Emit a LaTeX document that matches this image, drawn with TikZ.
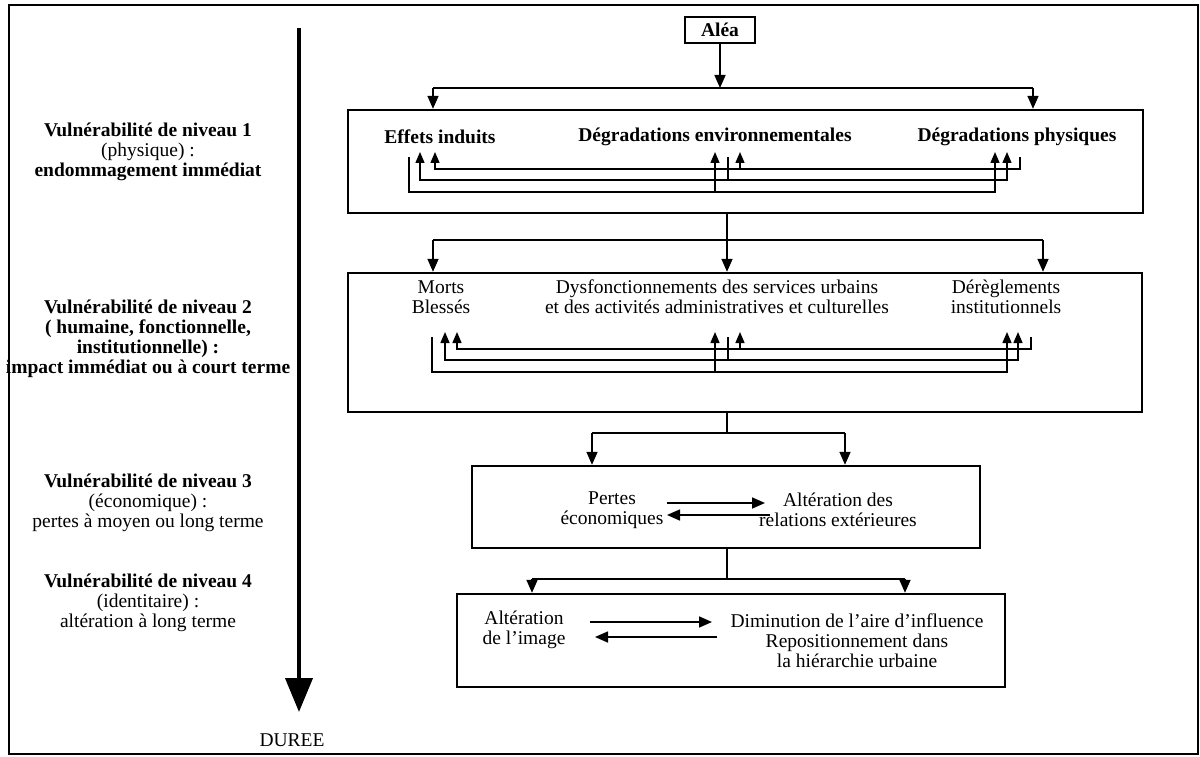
\documentclass[tikz,border=0pt]{standalone}
\usepackage{fontspec}
\setmainfont{Liberation Serif}
\usetikzlibrary{arrows.meta}

\begin{document}
\begin{tikzpicture}[x=1pt, y=-1pt,
  every node/.style={font=\fontsize{19.5}{20}\selectfont, inner sep=0pt},
  bold/.style={font=\fontsize{19.5}{20}\selectfont\bfseries},
  level/.style={align=center},
  item/.style={align=center},
  frame/.style={draw, line width=2.4pt},
  flow/.style={line width=1.6pt, -{Triangle[length=13pt,width=11pt]}},
  link/.style={line width=1.6pt},
  feed/.style={line width=1.4pt, -{Triangle[length=11pt,width=9pt]}},
  feedboth/.style={line width=1.4pt, {Triangle[length=11pt,width=9pt]}-{Triangle[length=11pt,width=9pt]}}]

\useasboundingbox (0,0) rectangle (1200,757);
\draw[line width=1.6pt] (9,5) rectangle (1198,754);

% Time axis
\coordinate (t0) at (299,28);
\coordinate (t1) at (299,712);
\draw[line width=4pt, -{Triangle[length=34pt,width=27pt]}] (t0) -- (t1);
\node (duree) at (292,740) {DUREE};

% Levels (left column)
\node[level] (niv1) at (148,152) {\textbf{Vulnérabilité de niveau 1}\\(physique) :\\\textbf{endommagement immédiat}};
\node[level, bold] (niv2) at (148,339) {Vulnérabilité de niveau 2\\( humaine, fonctionnelle,\\institutionnelle) :\\impact immédiat ou à court terme};
\node[level] (niv3) at (148,503) {\textbf{Vulnérabilité de niveau 3}\\(économique) :\\pertes à moyen ou long terme};
\node[level] (niv4) at (148,603) {\textbf{Vulnérabilité de niveau 4}\\(identitaire) :\\altération à long terme};

% Boxes
\node[frame, bold, minimum width=70pt, minimum height=26pt] (alea) at (720,30) {Aléa};
\node[frame, minimum width=795pt, minimum height=103pt] (box1) at (745.5,161.5) {};
\node[frame, minimum width=794pt, minimum height=139pt] (box2) at (745,342.5) {};
\node[frame, minimum width=508pt, minimum height=82pt] (box3) at (726,507) {};
\node[frame, minimum width=548pt, minimum height=93pt] (box4) at (731,640.5) {};

% Level 1 items
\node[bold] (effets) at (440,137) {Effets induits};
\node[bold] (envir) at (715,137) {Dégradations environnementales};
\node[bold] (physiq) at (1017,137) {Dégradations physiques};

% Level 2 items
\node[item] (morts) at (441,297) {Morts\\Blessés};
\node[item] (dysf) at (717,297) {Dysfonctionnements des services urbains\\et des activités administratives et culturelles};
\node[item] (dereg) at (1006,297) {Dérèglements\\institutionnels};

% Level 3 items
\node[item] (pertes) at (612,510) {Pertes\\économiques};
\node[item] (relext) at (838,510) {Altération des\\relations extérieures};

% Level 4 items
\node[item] (image) at (524,630) {Altération\\de l’image};
\node[item] (aire) at (857,641) {Diminution de l’aire d’influence\\Repositionnement dans\\la hiérarchie urbaine};

% Alea -> level 1
\coordinate (s1) at (720,88);
\coordinate (l1) at (433,88);
\coordinate (r1) at (1033,88);
\draw[flow] (alea) -- (s1);
\draw[link] (l1) -- (r1);
\draw[flow] (l1) -- (l1 |- box1.north);
\draw[flow] (r1) -- (r1 |- box1.north);

% Level 1 -> level 2
\coordinate (s2) at (727,240);
\coordinate (l2) at (433,240);
\coordinate (r2) at (1043,240);
\draw[flow] (s2 |- box1.south) -- (s2 |- box2.north);
\draw[link] (l2) -- (r2);
\draw[flow] (l2) -- (l2 |- box2.north);
\draw[flow] (r2) -- (r2 |- box2.north);

% Level 2 -> level 3
\coordinate (s3) at (727,433);
\coordinate (l3) at (592,433);
\coordinate (r3) at (845,433);
\draw[link] (s3 |- box2.south) -- (s3);
\draw[link] (l3) -- (r3);
\draw[flow] (l3) -- (l3 |- box3.north);
\draw[flow] (r3) -- (r3 |- box3.north);

% Level 3 -> level 4
\coordinate (s4) at (727,579);
\coordinate (l4) at (532,579);
\coordinate (r4) at (905,579);
\draw[link] (s4 |- box3.south) -- (s4);
\draw[link] (l4) -- (r4);
\draw[flow] (l4) -- (l4 |- box4.north);
\draw[flow] (r4) -- (r4 |- box4.north);

% Interactions inside levels 1 and 2
\foreach \dy/\a/\b/\c/\p/\q/\r in {0/409/420/435/995/1007/1020, 180/432/445/457/1007/1018/1031}{
  % from the left item
  \draw[feed] (\a,157+\dy) -- (\a,192+\dy) -- (\p,192+\dy) -- (\p,152+\dy);
  \draw[feed] (715,192+\dy) -- (715,152+\dy);
  % from the middle item
  \draw[link, line width=1.4pt] (728,157+\dy) -- (728,180+\dy);
  \draw[feedboth] (\b,152+\dy) -- (\b,180+\dy) -- (\q,180+\dy) -- (\q,152+\dy);
  % from the right item
  \draw[feed] (\r,157+\dy) -- (\r,169+\dy) -- (\c,169+\dy) -- (\c,152+\dy);
  \draw[feed] (740,169+\dy) -- (740,152+\dy);
}

% Interactions inside levels 3 and 4
\draw[flow] (667,503) -- (765,503);
\draw[flow] (770,515) -- (667,515);
\draw[flow] (590,622) -- (712,622);
\draw[flow] (717,637) -- (595,637);

\end{tikzpicture}
\end{document}
